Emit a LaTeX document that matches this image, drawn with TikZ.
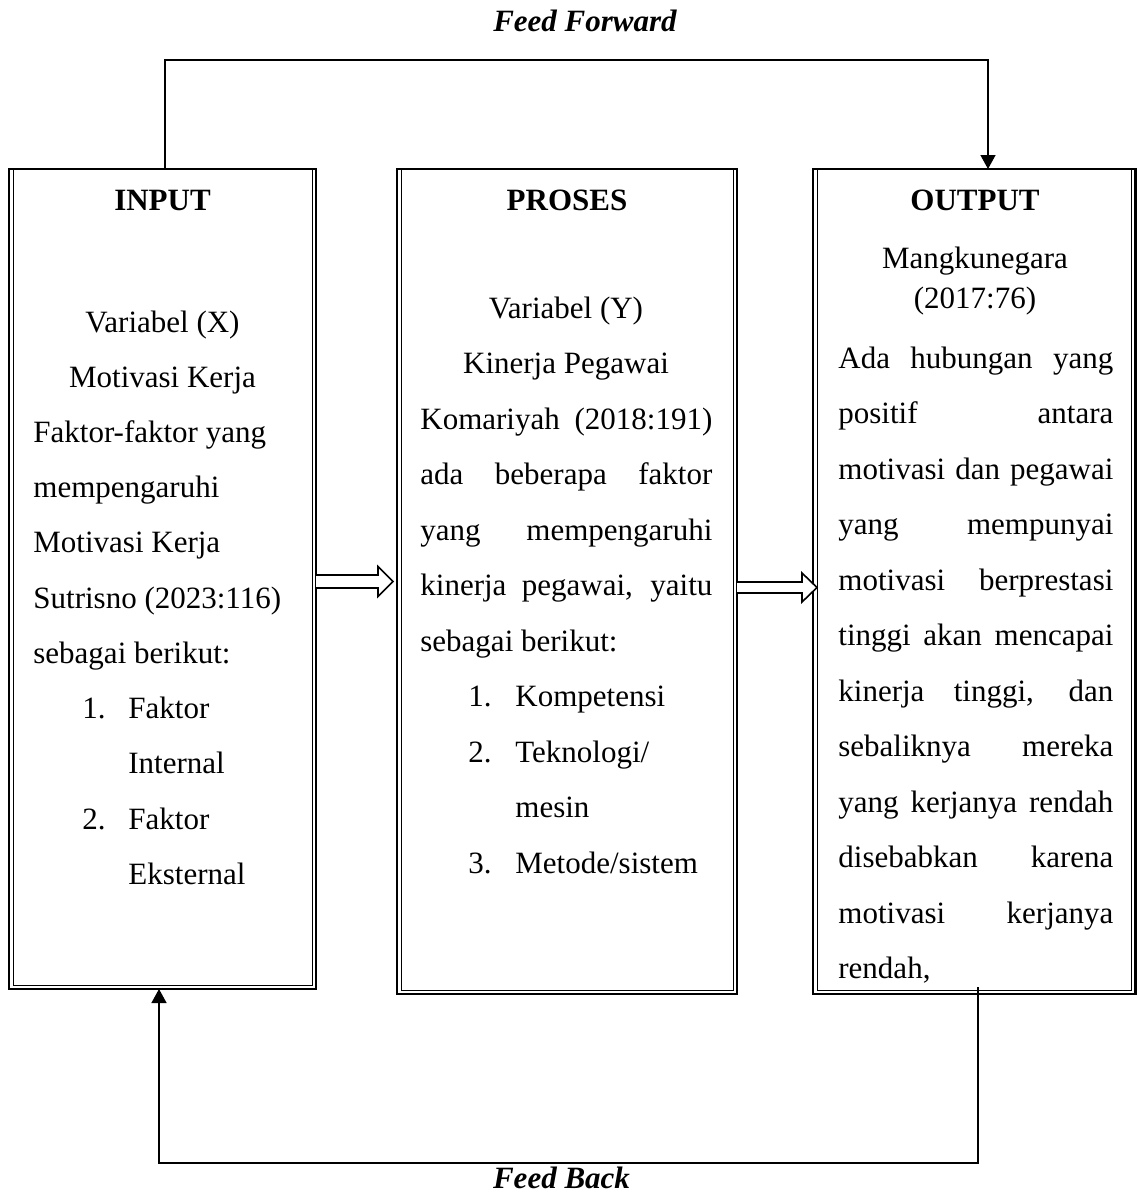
\documentclass[tikz,border=0pt]{standalone}
\usepackage{fontspec}
\setmainfont{Liberation Serif}
\usepackage{tikz}
\usetikzlibrary{arrows.meta}

\newcommand{\spread}[2]{\makebox[#1][s]{#2}}

\begin{document}
\begin{tikzpicture}[x=0.5pt,y=-0.5pt]
\tikzset{box/.style = {draw, line width=1.2pt, outer sep=0pt, inner sep=0pt}}
\tikzset{inbox/.style = {line width=0.5pt}}
\tikzset{txt/.style = {font=\fontsize{15.5}{18}\selectfont, inner sep=0pt}}
\tikzset{ttl/.style = {font=\fontsize{15.5}{18}\selectfont\bfseries, inner sep=0pt, anchor=base}}
\tikzset{feed/.style = {font=\fontsize{15.5}{18}\selectfont\bfseries\itshape, inner sep=0pt, anchor=base}}
\tikzset{link/.style = {line width=0.7pt, -{Triangle[length=7pt,width=7.5pt]}}}
\tikzset{hollow/.style = {draw, fill=white, line width=0.8pt, line join=miter}}
\useasboundingbox (0,0) rectangle (1137,1196);

% boxes
\node[box, minimum width=153.5pt, minimum height=410pt] (input) at (162.5,579) {};
\node[box, minimum width=170pt, minimum height=412.5pt] (proses) at (567,581.5) {};
\node[box, minimum width=161.25pt, minimum height=412.5pt] (output) at (974.25,581.5) {};
\foreach \b in {input,proses,output}
  \draw[inbox] ([shift={(4,0)}]\b.north west) rectangle ([shift={(-4,-4)}]\b.south east);

% titles
\node[ttl] (tin) at (162.5,210) {INPUT};
\node[ttl] (tpr) at (567,210) {PROSES};
\node[ttl] (tout) at (975,210) {OUTPUT};

% input text
\node[txt, anchor=base] (i1) at (162.5,332) {Variabel (X)};
\node[txt, anchor=base] (i2) at (162.5,387) {Motivasi Kerja};
\foreach \t [count=\k from 3] in {Faktor-faktor yang, mempengaruhi, Motivasi Kerja, Sutrisno (2023:116), sebagai berikut:}
  \node[txt, anchor=base west] (i\k) at (33,{332+55.2*(\k-1)}) {\t};
\node[txt, anchor=base west] (in1) at (82,718) {1.};
\node[txt, anchor=base west] (i8) at (128,718) {Faktor};
\node[txt, anchor=base west] (i9) at (128,773) {Internal};
\node[txt, anchor=base west] (in2) at (82,829) {2.};
\node[txt, anchor=base west] (i10) at (128,829) {Faktor};
\node[txt, anchor=base west] (i11) at (128,884) {Eksternal};

% proses text
\node[txt, anchor=base] (p1) at (566,318) {Variabel (Y)};
\node[txt, anchor=base] (p2) at (566,373.5) {Kinerja Pegawai};
\foreach \t [count=\k from 3] in {Komariyah (2018:191), ada beberapa faktor, yang mempengaruhi, {kinerja pegawai, yaitu}}
  \node[txt, anchor=base west] (p\k) at (420,{318+55.5*(\k-1)}) {\spread{146pt}{\t}};
\node[txt, anchor=base west] (p7) at (420,651) {sebagai berikut:};
\node[txt, anchor=base west] (pn1) at (468,706.5) {1.};
\node[txt, anchor=base west] (p8) at (515,706.5) {Kompetensi};
\node[txt, anchor=base west] (pn2) at (468,762) {2.};
\node[txt, anchor=base west] (p9) at (515,762) {Teknologi/};
\node[txt, anchor=base west] (p10) at (515,817.5) {mesin};
\node[txt, anchor=base west] (pn3) at (468,873) {3.};
\node[txt, anchor=base west] (p11) at (515,873) {Metode/sistem};

% output text
\node[txt, anchor=base] (o1) at (975,268) {Mangkunegara};
\node[txt, anchor=base] (o2) at (975,308) {(2017:76)};
\foreach \t [count=\k from 3] in {Ada hubungan yang, positif antara, motivasi dan pegawai, yang mempunyai, motivasi berprestasi, tinggi akan mencapai, {kinerja tinggi, dan}, sebaliknya mereka, yang kerjanya rendah, disebabkan karena, motivasi kerjanya}
  \node[txt, anchor=base west] (o\k) at (838,{368+55.5*(\k-3)}) {\spread{137.5pt}{\t}};
\node[txt, anchor=base west] (o14) at (838,978.5) {rendah,};

% hollow arrows
\draw[hollow] ([yshift=2pt]input.east) -- ++(62,0) -- ++(0,-8.5) -- ++(15,15) -- ++(-15,15) -- ++(0,-8.5) -- ++(-62,0);
\draw[hollow] ([yshift=-0.25pt]proses.east) -- ++(65,0) -- ++(0,-9) -- ++(15,14.5) -- ++(-15,14.5) -- ++(0,-9) -- ++(-65,0);

% feed forward / feed back
\coordinate (ffl) at (165,60);
\coordinate (ffr) at (988,60);
\coordinate (fbr) at (978,1163);
\coordinate (fbl) at (159,1163);
\draw[link] (input.north -| ffl) -- (ffl) -- (ffr) -- (output.north -| ffr);
\draw[link] ([yshift=3.5pt]output.south -| fbr) -- (fbr) -- (fbl) -- (input.south -| fbl);
\node[feed] (tff) at (585,31) {Feed Forward};
\node[feed] (tfb) at (561.5,1188) {Feed Back};
\end{tikzpicture}
\end{document}
